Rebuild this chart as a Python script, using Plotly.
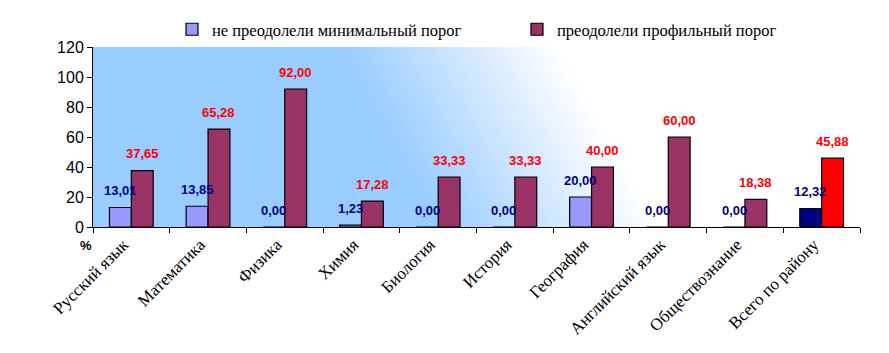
import base64
import plotly.graph_objects as go

categories = ["Русский язык", "Математика", "Физика", "Химия", "Биология",
              "История", "География", "Английский язык", "Обществознание",
              "Всего по району"]
series_names = ["не преодолели минимальный порог", "преодолели профильный порог"]
not_passed_min = [13.01, 13.85, 0.00, 1.23, 0.00, 0.00, 20.00, 0.00, 0.00, 12.32]
passed_profile = [37.65, 65.28, 92.00, 17.28, 33.33, 33.33, 40.00, 60.00, 18.38, 45.88]
y_ticks = [0, 20, 40, 60, 80, 100, 120]

c1 = ["#9999FF"] * 9 + ["#000080"]
c2 = ["#993366"] * 9 + ["#FF0000"]

fmt = lambda v: f"{v:.2f}".replace(".", ",")

W, H = 889, 353
ml, mr, mt, mb = 93, 29, 45, 126
pw = W - ml - mr
ph = H - mt - mb
bargap = 0.43
bar_w_px = (1 - bargap) / 2 * pw / len(categories)

svg = f'''<svg xmlns="http://www.w3.org/2000/svg" width="{pw}" height="{ph}" viewBox="0 0 {pw} {ph}" preserveAspectRatio="none">
<defs><linearGradient id="g" gradientUnits="userSpaceOnUse" x1="189" y1="-104" x2="358" y2="-197">
<stop offset="0" stop-color="#99CCFF"/><stop offset="1" stop-color="#FFFFFF"/></linearGradient></defs>
<rect x="0" y="0" width="{pw}" height="{ph}" fill="url(#g)"/></svg>'''
src = "data:image/svg+xml;base64," + base64.b64encode(svg.encode()).decode()

fig = go.Figure()
fig.add_trace(go.Bar(x=categories, y=not_passed_min, name=series_names[0],
                     marker=dict(color=c1, line=dict(color="black", width=1.2))))
fig.add_trace(go.Bar(x=categories, y=passed_profile, name=series_names[1],
                     marker=dict(color=c2, line=dict(color="black", width=1.2))))

annotations = []
for cat, v in zip(categories, not_passed_min):
    annotations.append(dict(x=cat, y=v, text=fmt(v), showarrow=False, xshift=-bar_w_px / 2,
                            yshift=17, yanchor="middle",
                            font=dict(family="Liberation Sans, Arial", size=13, color="#000080", weight="bold")))
for cat, v in zip(categories, passed_profile):
    annotations.append(dict(x=cat, y=v, text=fmt(v), showarrow=False, xshift=bar_w_px / 2,
                            yshift=17, yanchor="middle",
                            font=dict(family="Liberation Sans, Arial", size=13, color="#FF0000", weight="bold")))
annotations.append(dict(xref="paper", yref="paper", x=(86 - ml) / pw, y=(227 - 246) / ph, text="%",
                        showarrow=False, xanchor="center", yanchor="middle",
                        font=dict(family="Liberation Sans, Arial", size=13, color="black", weight="bold")))

fig.update_layout(
    width=W, height=H,
    margin=dict(l=ml, r=mr, t=mt, b=mb),
    paper_bgcolor="white",
    plot_bgcolor="rgba(0,0,0,0)",
    barmode="group", bargap=bargap, bargroupgap=0,
    images=[dict(source=src, xref="paper", yref="paper", x=0, y=1, sizex=1, sizey=1,
                 xanchor="left", yanchor="top", sizing="stretch", layer="below")],
    annotations=annotations,
    showlegend=True,
    legend=dict(orientation="h", x=(172 - ml) / pw, y=1.0, xanchor="left", yanchor="bottom",
                entrywidth=300, entrywidthmode="pixels", itemwidth=30,
                font=dict(family="Liberation Serif, Times New Roman", size=16.5, color="black"),
                bgcolor="rgba(0,0,0,0)"),
    xaxis=dict(showline=True, linecolor="black", linewidth=1, ticks="outside", tickson="boundaries",
               ticklen=5, tickcolor="black", tickangle=-45, showgrid=False,
               ticklabelshift=-8,
               tickfont=dict(family="Liberation Serif, Times New Roman", size=17, color="black")),
    yaxis=dict(range=[0, 120], tickvals=y_ticks, showline=True, linecolor="black", linewidth=1,
               ticks="outside", ticklen=5, tickcolor="black", showgrid=False, zeroline=False,
               tickfont=dict(family="Liberation Sans, Arial", size=16, color="black")),
)

fig.write_html("out.html")
